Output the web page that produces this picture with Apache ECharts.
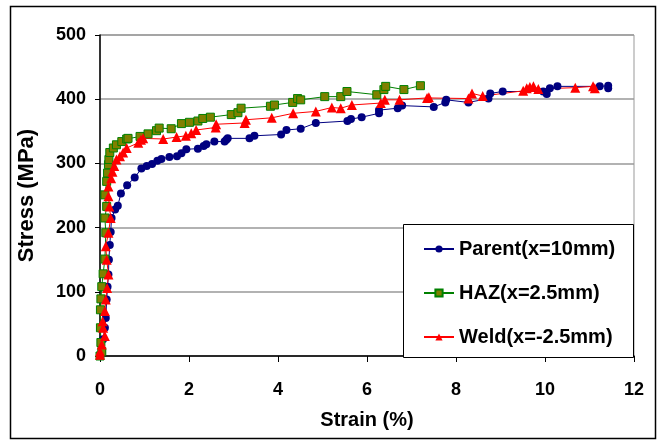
<!DOCTYPE html>
<html>
<head>
<meta charset="utf-8">
<script src="https://cdn.jsdelivr.net/npm/echarts@6/dist/echarts.min.js"></script>
<style>
  html, body { margin: 0; padding: 0; background: #fff; }
  #chart { width: 657px; height: 441px; }
</style>
</head>
<body>
<div id="chart"></div>
<script>
// strain (%), stress (MPa)
const parentData = [
  [0, 0], [0.04, 7], [0.07, 26], [0.11, 44], [0.13, 59], [0.15, 88], [0.17, 108],
  [0.19, 127], [0.20, 150], [0.22, 173], [0.24, 193], [0.26, 215], [0.34, 228],
  [0.40, 234], [0.47, 253], [0.61, 266], [0.78, 278], [0.93, 292], [1.05, 296],
  [1.17, 299], [1.29, 304], [1.38, 307], [1.56, 310], [1.73, 311], [1.83, 316],
  [1.94, 322], [2.20, 323], [2.33, 327], [2.39, 330], [2.57, 334], [2.80, 334],
  [2.84, 337], [2.87, 339], [3.36, 339], [3.47, 343], [4.07, 345], [4.19, 352],
  [4.51, 354], [4.85, 363], [5.56, 366], [5.64, 369], [5.88, 372], [6.27, 378],
  [6.27, 383], [6.69, 386], [6.79, 390], [7.50, 388], [7.76, 395], [7.78, 399],
  [8.28, 395], [8.73, 401], [8.77, 409], [9.05, 412], [9.96, 412], [10.04, 408],
  [10.11, 417], [10.28, 420], [11.23, 420], [11.42, 421], [11.42, 417]
];
const hazData = [
  [0, 0], [0.04, 7], [0.02, 21], [0.01, 44], [0.01, 72], [0.02, 89], [0.04, 108],
  [0.07, 128], [0.11, 151], [0.13, 192], [0.11, 215], [0.15, 233], [0.11, 251],
  [0.15, 272], [0.17, 285], [0.19, 298], [0.20, 306], [0.22, 317], [0.30, 324],
  [0.37, 329], [0.49, 334], [0.60, 338], [0.63, 339], [0.90, 342], [1.08, 346],
  [1.27, 351], [1.33, 355], [1.60, 354], [1.83, 362], [2.01, 364], [2.20, 366],
  [2.31, 370], [2.48, 372], [2.95, 376], [3.10, 379], [3.17, 386], [3.83, 389],
  [3.92, 391], [4.33, 395], [4.44, 401], [4.51, 399], [5.05, 404], [5.41, 404],
  [5.55, 412], [6.22, 407], [6.38, 415], [6.42, 420], [6.83, 415], [7.20, 421]
];
const weldData = [
  [0, 2], [0, 7], [0.04, 18], [0.11, 31], [0.07, 44], [0.06, 54], [0.11, 70],
  [0.13, 88], [0.16, 106], [0.19, 127], [0.15, 150], [0.13, 171], [0.19, 192],
  [0.24, 215], [0.21, 233], [0.19, 249], [0.19, 264], [0.25, 277], [0.28, 287],
  [0.32, 296], [0.37, 306], [0.45, 311], [0.52, 317], [0.60, 324], [0.86, 332],
  [0.92, 337], [0.97, 339], [1.42, 338], [1.72, 341], [1.93, 343], [2.05, 347],
  [2.16, 352], [2.60, 356], [2.61, 361], [3.25, 363], [3.28, 368], [3.86, 371],
  [4.34, 378], [4.85, 381], [5.21, 387], [5.41, 386], [5.66, 391], [6.31, 394],
  [6.40, 399], [6.73, 399], [7.35, 402], [7.39, 403], [8.28, 401], [8.36, 409],
  [8.60, 405], [9.51, 413], [9.59, 417], [9.66, 419], [9.74, 420], [9.85, 416],
  [10.68, 418], [11.08, 420], [11.12, 417]
];
const seriesNames = ["Parent(x=10mm)", "HAZ(x=2.5mm)", "Weld(x=-2.5mm)"];

const font = "'Liberation Sans', Arial, sans-serif";
const chart = echarts.init(document.getElementById("chart"));

chart.setOption({
  backgroundColor: "#fff",
  animation: false,
  graphic: [
    {
      type: "rect",
      z: -10,
      shape: { x: 10.5, y: 6.5, width: 645, height: 432 },
      style: { fill: "none", stroke: "#000", lineWidth: 1.5 },
    },
    {
      type: "rect",
      z: 10,
      shape: { x: 403.5, y: 224.5, width: 230, height: 133 },
      style: { fill: "#fff", stroke: "#000", lineWidth: 1 },
    },
  ],
  grid: {
    left: 100,
    right: 23,
    top: 35,
    bottom: 85,
    show: true,
    borderColor: "#999",
    borderWidth: 1,
  },
  legend: {
    z: 20,
    orient: "vertical",
    left: 418,
    top: 234,
    itemWidth: 30,
    itemHeight: 9,
    itemGap: 24,
    textStyle: { fontFamily: font, fontWeight: "bold", fontSize: 20, color: "#000" },
    data: seriesNames,
  },
  xAxis: {
    type: "value",
    min: 0,
    max: 12,
    interval: 2,
    name: "Strain (%)",
    nameLocation: "middle",
    nameGap: 54,
    nameTextStyle: { fontFamily: font, fontWeight: "bold", fontSize: 20, color: "#000" },
    axisLine: { onZero: false, lineStyle: { color: "#000", width: 1.5 } },
    axisTick: { show: true, length: 6, lineStyle: { color: "#000" } },
    axisLabel: { margin: 25, fontFamily: font, fontWeight: "bold", fontSize: 18, color: "#000" },
    splitLine: { show: false },
  },
  yAxis: {
    type: "value",
    min: 0,
    max: 500,
    interval: 100,
    name: "Stress (MPa)",
    nameLocation: "middle",
    nameGap: 62,
    nameTextStyle: { fontFamily: font, fontWeight: "bold", fontSize: 22, color: "#000" },
    axisLine: { onZero: false, lineStyle: { color: "#000", width: 1.5 } },
    axisTick: { show: true, length: 5, lineStyle: { color: "#000" } },
    axisLabel: { margin: 14, fontFamily: font, fontWeight: "bold", fontSize: 18, color: "#000" },
    splitLine: { show: true, lineStyle: { color: "#999", width: 1.5 } },
  },
  series: [
    {
      name: seriesNames[0],
      type: "line",
      data: parentData,
      symbol: "circle",
      symbolSize: 8,
      lineStyle: { color: "#000080", width: 1 },
      itemStyle: { color: "#000080" },
    },
    {
      name: seriesNames[1],
      type: "line",
      data: hazData,
      symbol: "rect",
      symbolSize: 8,
      lineStyle: { color: "#008000", width: 1 },
      itemStyle: { color: "#808000", borderColor: "#008000", borderWidth: 1 },
    },
    {
      name: seriesNames[2],
      type: "line",
      data: weldData,
      symbol: "triangle",
      symbolSize: 10,
      lineStyle: { color: "#ff0000", width: 1 },
      itemStyle: { color: "#ff0000" },
    },
  ],
});
</script>
</body>
</html>
